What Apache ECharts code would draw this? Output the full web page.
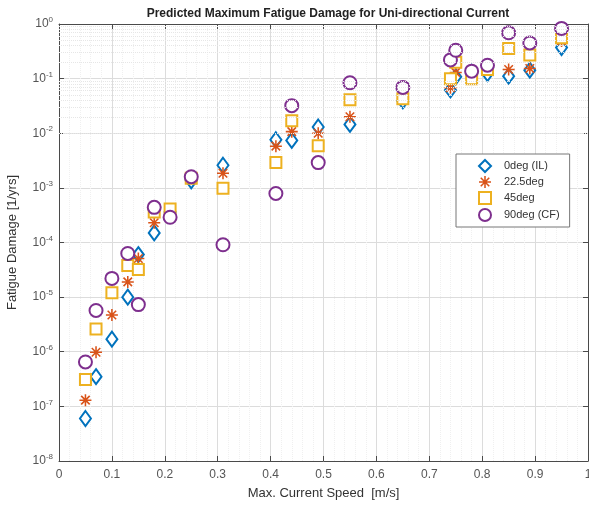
<!DOCTYPE html>
<html>
<head>
<meta charset="utf-8">
<script src="https://cdn.jsdelivr.net/npm/echarts@6/dist/echarts.min.js"></script>
<style>
  html, body { margin: 0; padding: 0; background: #fff; }
  #chart { width: 589px; height: 506px; }
</style>
</head>
<body>
<div id="chart"></div>
<script>
// max current speed [m/s]
const speeds = [0.05, 0.07, 0.10, 0.13, 0.15, 0.18, 0.21, 0.25, 0.31, 0.41, 0.44, 0.49, 0.55, 0.65, 0.74, 0.75, 0.78, 0.81, 0.85, 0.89, 0.95]

// fatigue damage [1/yrs] per heading
const dmg0 = [6e-8, 3.5e-7, 1.7e-6, 1.0e-5, 6e-5, 1.5e-4, 3.6e-4, 1.35e-3, 2.6e-3, 7.6e-3, 7.4e-3, 1.3e-2, 1.45e-2, 3.9e-2, 6.2e-2, 0.108, 0.13, 0.124, 0.111, 0.143, 0.37]
const dmg22 = [1.3e-7, 9.8e-7, 4.7e-6, 1.9e-5, 5.1e-5, 2.3e-4, 3.8e-4, 1.6e-3, 1.85e-3, 5.8e-3, 1.07e-2, 1.0e-2, 2.0e-2, 4.3e-2, 6.8e-2, 0.13, 0.119, 0.15, 0.147, 0.153, 0.49]
const dmg45 = [3.1e-7, 2.6e-6, 1.2e-5, 3.8e-5, 3.2e-5, 3.6e-4, 4.1e-4, 1.5e-3, 9.8e-4, 2.9e-3, 1.7e-2, 5.9e-3, 4.1e-2, 4.3e-2, 0.10, 0.20, 0.10, 0.147, 0.355, 0.27, 0.56]
const dmg90 = [6.5e-7, 5.7e-6, 2.2e-5, 6.3e-5, 7.3e-6, 4.4e-4, 2.9e-4, 1.6e-3, 9.1e-5, 7.9e-4, 3.2e-2, 2.9e-3, 8.4e-2, 6.9e-2, 0.22, 0.33, 0.137, 0.176, 0.69, 0.45, 0.83]

const seriesNames = ['0deg (IL)', '22.5deg', '45deg', '90deg (CF)']
const xTicks = [0, 0.1, 0.2, 0.3, 0.4, 0.5, 0.6, 0.7, 0.8, 0.9, 1]
const yDecades = [-8, -7, -6, -5, -4, -3, -2, -1, 0]

const font = 'Liberation Sans, Arial, sans-serif'
const axisColor = '#4a4a4a'

// log minor grid positions (2..9 x 10^d)
const minorY = []
yDecades.slice(0, -1).forEach((d) => {
  for (let m = 2; m <= 9; m++) minorY.push(m * Math.pow(10, d))
})

const asterisk = 'path://M-0.9,-7L0.9,-7L0.9,7L-0.9,7Z' +
  'M-7,-0.9L7,-0.9L7,0.9L-7,0.9Z' +
  'M-5.6,-4.3L-4.3,-5.6L5.6,4.3L4.3,5.6Z' +
  'M4.3,-5.6L5.6,-4.3L-4.3,5.6L-5.6,4.3Z'

const pairs = (ys) => speeds.map((x, i) => [x, ys[i]])

const chart = echarts.init(document.getElementById('chart'), null, { renderer: 'canvas' })

const markerSeries = [
  { name: seriesNames[0], data: dmg0, color: '#0072BD', symbol: 'emptyDiamond', size: [11, 15] },
  { name: seriesNames[1], data: dmg22, color: '#D95319', symbol: asterisk, size: 12 },
  { name: seriesNames[2], data: dmg45, color: '#EDB120', symbol: 'emptyRect', size: 11 },
  { name: seriesNames[3], data: dmg90, color: '#7E2F8E', symbol: 'emptyCircle', size: 13 }
].map((s) => ({
  name: s.name,
  type: 'scatter',
  symbol: s.symbol,
  symbolSize: s.size,
  itemStyle: {
    color: s.color,
    borderColor: s.color,
    borderWidth: s.symbol === asterisk ? 0 : 2,
    opacity: 1
  },
  z: 3,
  data: pairs(s.data)
}))

const option = {
  backgroundColor: '#fff',
  animation: false,
  textStyle: { fontFamily: font },
  title: {
    text: 'Predicted Maximum Fatigue Damage for Uni-directional Current',
    left: 323,
    textAlign: 'center',
    top: 3,
    textStyle: { fontFamily: font, fontSize: 12, fontWeight: 'bold', color: '#222' }
  },
  legend: {
    data: seriesNames,
    orient: 'vertical',
    left: 456,
    top: 154,
    width: 115,
    padding: [5, 10, 5, 22],
    itemGap: 3,
    itemWidth: 12,
    itemHeight: 12,
    backgroundColor: '#fff',
    borderColor: '#777',
    borderWidth: 1,
    borderRadius: 0,
    textStyle: { fontFamily: font, fontSize: 11, color: '#333', padding: [0, 0, 0, 8] }
  },
  grid: {
    left: 59,
    right: 1,
    top: 24,
    bottom: 45,
    outerBoundsMode: 'none'
  },
  xAxis: [
    {
      type: 'value',
      min: 0,
      max: 1,
      interval: 0.1,
      name: 'Max. Current Speed  [m/s]',
      nameLocation: 'middle',
      nameGap: 26,
      nameTextStyle: { fontFamily: font, fontSize: 13, color: '#333' },
      axisLine: { onZero: false, lineStyle: { color: axisColor, width: 1 } },
      axisTick: { inside: true, length: 5, lineStyle: { color: axisColor } },
      minorTick: { show: false, splitNumber: 5 },
      axisLabel: {
        color: '#555',
        fontSize: 12,
        margin: 8,
        formatter: (v) => (xTicks.includes(Math.round(v * 10) / 10) ? String(Math.round(v * 10) / 10) : '')
      },
      splitLine: { show: true, lineStyle: { color: '#dcdcdc', width: 1 } },
      minorSplitLine: { show: true, lineStyle: { color: '#f0f0f0', width: 1, type: 'dotted' } }
    },
    {
      type: 'value',
      position: 'top',
      min: 0,
      max: 1,
      interval: 0.1,
      axisLine: { onZero: false, lineStyle: { color: axisColor } },
      axisTick: { inside: true, length: 5, lineStyle: { color: axisColor } },
      axisLabel: { show: false },
      splitLine: { show: false }
    }
  ],
  yAxis: [
    {
      type: 'log',
      logBase: 10,
      min: 1e-8,
      max: 1,
      name: 'Fatigue Damage [1/yrs]',
      nameLocation: 'middle',
      nameGap: 40,
      nameTextStyle: { fontFamily: font, fontSize: 13, color: '#333' },
      axisLine: { onZero: false, lineStyle: { color: axisColor } },
      axisTick: { inside: true, length: 5, lineStyle: { color: axisColor } },
      axisLabel: {
        margin: 6,
        formatter: (v) => {
          const e = Math.round(Math.log10(v))
          return '{b|10}{s|' + e + '}'
        },
        rich: {
          b: { fontFamily: font, fontSize: 12, color: '#555' },
          s: { fontFamily: font, fontSize: 8, color: '#555', padding: [0, 0, 8, 0] }
        }
      },
      splitLine: { show: true, lineStyle: { color: '#dcdcdc', width: 1 } }
    },
    {
      type: 'log',
      logBase: 10,
      min: 1e-8,
      max: 1,
      position: 'right',
      axisLine: { onZero: false, lineStyle: { color: axisColor } },
      axisTick: { inside: true, length: 5, lineStyle: { color: axisColor } },
      axisLabel: { show: false },
      splitLine: { show: false }
    }
  ],
  series: [
    {
      name: 'minorGrid',
      type: 'scatter',
      data: [],
      silent: true,
      z: 1,
      markLine: {
        silent: true,
        symbol: ['none', 'none'],
        label: { show: false },
        animation: false,
        lineStyle: { color: '#e6e6e6', width: 1, type: 'dotted' },
        emphasis: { disabled: true },
        data: minorY.map((v) => ({ yAxis: v }))
      }
    },
    ...markerSeries
  ]
}

chart.setOption(option)
</script>
</body>
</html>
